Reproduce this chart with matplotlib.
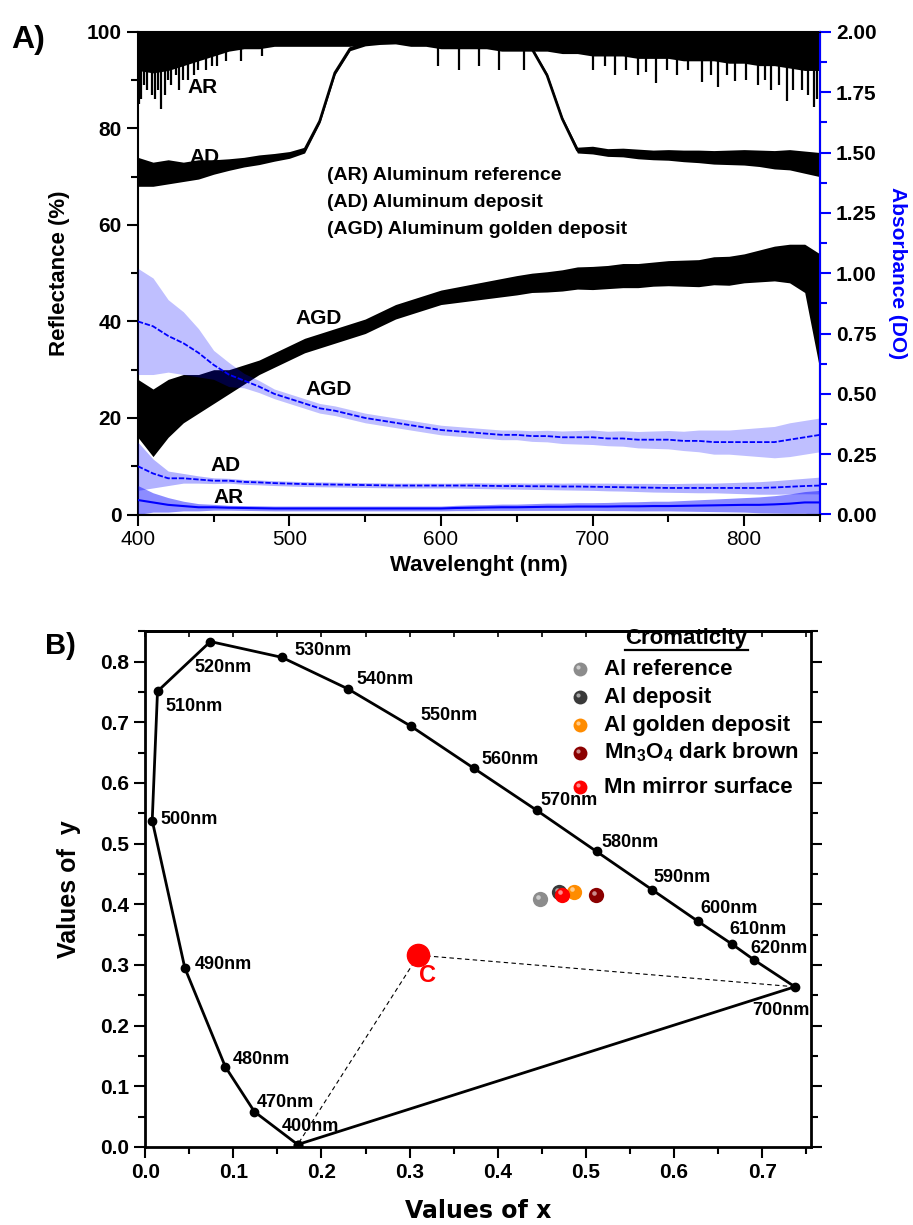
import numpy as np
import matplotlib
matplotlib.use("Agg")
import matplotlib.pyplot as plt
from matplotlib.ticker import MultipleLocator, NullFormatter
from matplotlib.lines import Line2D
from matplotlib.transforms import ScaledTranslation

plt.rcParams['font.family'] = ['Liberation Sans', 'DejaVu Sans']
plt.rcParams['mathtext.fontset'] = 'custom'
plt.rcParams['mathtext.rm'] = 'Liberation Sans:bold'
plt.rcParams['mathtext.bf'] = 'Liberation Sans:bold'

# ====== spectra (10 nm steps, 400-850 nm) ======
wl = np.arange(400, 851, 10)

# reflectance (%): lower edge of the dense AR trace, plus its deepest spikes
ar_low = [92, 91.5, 92, 93, 94, 95, 96, 96.5, 96.5, 97, 97, 97, 97, 97, 97, 97.5,
          97.5, 97.5, 97, 97, 96.5, 96.5, 96.5, 96.5, 96, 96, 96, 96, 95.5, 95.5,
          95, 95, 95, 94.5, 94.5, 94.5, 94, 94, 94, 93.5, 93.5, 93, 93, 92.5, 92, 92]
ar_dip_wl = [401, 402, 404, 406, 409, 411, 413, 415, 418, 420, 422, 425, 427, 430,
             433, 437, 440, 445, 449, 452, 458, 468, 482, 598, 612, 625, 638, 655,
             700, 708, 715, 722, 730, 735, 742, 749, 756, 763, 772, 778, 783, 789,
             794, 801, 809, 814, 818, 823, 828, 832, 838, 842, 846, 848]
ar_dip_val = [85, 86, 89, 88, 87, 86, 88, 84, 87, 90, 89, 91, 88, 90,
              90, 91, 92, 92, 93, 93, 94, 94, 95, 93, 92, 93, 92, 92,
              92, 93, 91, 92, 91, 91.7, 89.5, 92, 91, 92, 89.6, 91, 88.5, 91,
              89.8, 90, 88.9, 90, 88, 89, 85.7, 88, 88, 87, 84.4, 86]

ad_refl = [71, 70.5, 71, 71, 71.5, 72, 72.5, 73, 73.5, 74, 74.5, 75.5, 81.5, 91.5,
           96.5, 97.5, 97.8, 98, 98, 98, 98, 98, 98, 97.8, 97.8, 97.5, 96.5, 91, 82,
           75.5, 75.5, 75, 75, 74.7, 74.5, 74.5, 74.3, 74.2, 74, 74, 74, 73.8, 73.5,
           73.5, 73, 72.5]
ad_refl_sd = [3, 2.5, 2.5, 2, 2, 1.5, 1.2, 1, 1, 0.8, 0.7, 0.6, 0.4, 0.4, 0.4, 0.4,
              0.4, 0.4, 0.4, 0.4, 0.4, 0.4, 0.4, 0.4, 0.4, 0.4, 0.4, 0.4, 0.4, 0.6,
              0.8, 0.8, 0.9, 1, 1, 1.1, 1.2, 1.3, 1.4, 1.5, 1.6, 1.7, 1.9, 2.1, 2.3, 2.5]

agd_refl = [22, 19, 22, 24, 25, 26.5, 27.5, 29, 30.5, 32, 33.5, 35, 36, 37, 38, 39,
            40.5, 42, 43, 44, 45, 45.5, 46, 46.5, 47, 47.5, 48, 48.2, 48.5, 49, 49,
            49.2, 49.5, 49.5, 49.8, 50, 50, 50, 50.5, 50.5, 51, 51.5, 52, 52, 51, 42]
agd_refl_sd = [6, 7, 6, 5, 4, 3.5, 2.5, 2, 1.5, 1.5, 1.5, 1.5, 1.5, 1.5, 1.5, 1.5,
               1.5, 1.5, 1.5, 1.5, 1.5, 1.6, 1.7, 1.8, 1.9, 2, 2, 2.1, 2.2, 2.3, 2.4,
               2.4, 2.5, 2.5, 2.5, 2.6, 2.7, 2.8, 2.9, 3, 3, 3.3, 3.6, 4, 5, 12]

# absorbance (DO)
agd_abs = [0.8, 0.78, 0.74, 0.71, 0.67, 0.62, 0.58, 0.555, 0.53, 0.5, 0.48, 0.46,
           0.44, 0.43, 0.415, 0.4, 0.39, 0.38, 0.37, 0.36, 0.35, 0.345, 0.34, 0.335,
           0.33, 0.33, 0.325, 0.325, 0.32, 0.32, 0.32, 0.315, 0.315, 0.31, 0.31, 0.31,
           0.305, 0.305, 0.3, 0.3, 0.3, 0.3, 0.3, 0.31, 0.32, 0.33]
agd_abs_sd = [0.22, 0.2, 0.15, 0.13, 0.1, 0.06, 0.05, 0.03, 0.025, 0.02, 0.02, 0.02,
              0.02, 0.02, 0.02, 0.02, 0.02, 0.02, 0.02, 0.02, 0.02, 0.02, 0.02, 0.02,
              0.02, 0.02, 0.022, 0.024, 0.026, 0.028, 0.03, 0.03, 0.032, 0.034, 0.036,
              0.038, 0.04, 0.045, 0.05, 0.05, 0.055, 0.06, 0.065, 0.07, 0.07, 0.07]

ad_abs = [0.2, 0.17, 0.15, 0.15, 0.145, 0.14, 0.14, 0.135, 0.133, 0.13, 0.128, 0.126,
          0.125, 0.124, 0.123, 0.122, 0.121, 0.12, 0.12, 0.12, 0.12, 0.12, 0.12, 0.119,
          0.118, 0.118, 0.117, 0.117, 0.116, 0.116, 0.115, 0.114, 0.113, 0.112, 0.111,
          0.11, 0.11, 0.11, 0.11, 0.11, 0.11, 0.11, 0.112, 0.115, 0.118, 0.12]
ad_abs_sd = [0.1, 0.06, 0.03, 0.02, 0.015, 0.012, 0.01, 0.01, 0.01, 0.01, 0.01, 0.01,
             0.01, 0.01, 0.01, 0.01, 0.01, 0.01, 0.01, 0.01, 0.01, 0.01, 0.012, 0.012,
             0.012, 0.013, 0.013, 0.014, 0.014, 0.015, 0.015, 0.016, 0.016, 0.017,
             0.018, 0.018, 0.019, 0.02, 0.02, 0.022, 0.024, 0.026, 0.028, 0.03, 0.032, 0.035]

ar_abs = [0.06, 0.05, 0.04, 0.035, 0.03, 0.03, 0.028, 0.027, 0.026, 0.025, 0.025,
          0.025, 0.025, 0.025, 0.025, 0.025, 0.025, 0.025, 0.025, 0.025, 0.025, 0.027,
          0.028, 0.029, 0.03, 0.03, 0.031, 0.032, 0.032, 0.033, 0.033, 0.033, 0.034,
          0.034, 0.035, 0.035, 0.036, 0.037, 0.038, 0.039, 0.04, 0.04, 0.042, 0.045,
          0.05, 0.05]
ar_abs_sd = [0.06, 0.04, 0.03, 0.02, 0.015, 0.012, 0.01, 0.01, 0.01, 0.01, 0.01, 0.01,
             0.01, 0.01, 0.01, 0.01, 0.01, 0.01, 0.01, 0.01, 0.01, 0.011, 0.012, 0.012,
             0.013, 0.013, 0.014, 0.015, 0.015, 0.016, 0.016, 0.017, 0.018, 0.019, 0.02,
             0.02, 0.022, 0.024, 0.026, 0.028, 0.03, 0.033, 0.036, 0.04, 0.045, 0.05]

# ====== chromaticity diagram ======
locus_nm = [400, 470, 480, 490, 500, 510, 520, 530, 540, 550, 560, 570, 580, 590,
            600, 610, 620, 700]
locus_x = [0.173, 0.124, 0.091, 0.045, 0.008, 0.014, 0.074, 0.155, 0.230, 0.302,
           0.373, 0.444, 0.512, 0.575, 0.627, 0.666, 0.691, 0.737]
locus_y = [0.004, 0.058, 0.132, 0.295, 0.538, 0.751, 0.833, 0.807, 0.755, 0.693,
           0.624, 0.555, 0.487, 0.424, 0.372, 0.334, 0.308, 0.264]
illum_c = (0.310, 0.316)

sample_names = ['Al reference', 'Al deposit', 'Al golden deposit',
                r'Mn$_{3}$O$_{4}$ dark brown', 'Mn mirror surface']
sample_x = [0.448, 0.470, 0.486, 0.511, 0.473]
sample_y = [0.408, 0.420, 0.421, 0.415, 0.416]
sample_colors = ['#8c8c8c', '#3a3a3a', '#ff8c00', '#8b0000', '#ff0000']


def noisy_band(ax, x, mid, sd, color, lw, alpha=1.0, ls='-'):
    mid = np.asarray(mid, dtype=float)
    sd = np.asarray(sd, dtype=float)
    ax.fill_between(x, mid - sd, mid + sd, color=color, lw=0, alpha=alpha)
    ax.plot(x, mid, color=color, lw=lw, ls=ls)


fig = plt.figure(figsize=(9.13, 12.25), dpi=100)

# ---------------- A) ----------------
axA = fig.add_axes([0.151, 0.580, 0.747, 0.394])
axA2 = axA.twinx()

axA.fill_between(wl, np.asarray(ar_low, dtype=float), 101, color='k', lw=0)
axA.vlines(ar_dip_wl, ar_dip_val, 100, color='k', lw=1.6)
noisy_band(axA, wl, ad_refl, ad_refl_sd, 'k', 2)
noisy_band(axA, wl, agd_refl, agd_refl_sd, 'k', 2.5)

blue = '#0000ff'
noisy_band(axA2, wl, agd_abs, agd_abs_sd, blue, 1.3, alpha=0.25, ls=(0, (3, 1)))
noisy_band(axA2, wl, ad_abs, ad_abs_sd, blue, 1.3, alpha=0.3, ls=(0, (3, 1)))
noisy_band(axA2, wl, ar_abs, ar_abs_sd, blue, 1.5, alpha=0.45)

axA.set_xlim(400, 850)
axA.set_ylim(0, 100)
axA2.set_ylim(0, 2.0)
axA.xaxis.set_major_locator(MultipleLocator(100))
axA.xaxis.set_minor_locator(MultipleLocator(50))
axA.yaxis.set_major_locator(MultipleLocator(20))
axA.yaxis.set_minor_locator(MultipleLocator(10))
axA2.yaxis.set_major_locator(MultipleLocator(0.25))
axA2.yaxis.set_minor_locator(MultipleLocator(0.125))
axA2.yaxis.set_major_formatter(plt.FormatStrFormatter('%.2f'))

axA.tick_params(axis='both', which='major', direction='out', length=8, width=1.5,
                labelsize=15)
axA.tick_params(axis='both', which='minor', direction='out', length=5, width=1.5)
for lab in axA.get_yticklabels():
    lab.set_fontweight('bold')
axA2.tick_params(axis='y', which='major', direction='out', length=8, width=1.5,
                 colors=blue, labelcolor='k', labelsize=15)
axA2.tick_params(axis='y', which='minor', direction='out', length=5, width=1.5,
                 colors=blue)
for lab in axA2.get_yticklabels():
    lab.set_fontweight('bold')
for sp in axA.spines.values():
    sp.set_linewidth(1.5)
axA2.spines['right'].set_color(blue)
axA2.spines['right'].set_linewidth(1.5)
axA2.spines['left'].set_visible(False)

axA.set_xlabel('Wavelenght (nm)', fontsize=16, fontweight='bold', labelpad=4)
axA.set_ylabel('Reflectance (%)', fontsize=16, fontweight='bold', labelpad=12)
axA2.set_ylabel('Absorbance (DO)', fontsize=15, fontweight='bold', color=blue,
                rotation=270, labelpad=22)

lab_kw = dict(fontsize=15, fontweight='bold', ha='center', va='center')
axA.text(443, 88.4, 'AR', **lab_kw)
axA.text(444, 74.0, 'AD', **lab_kw)
axA.text(519, 40.7, 'AGD', **lab_kw)
axA.text(526, 26.0, 'AGD', **lab_kw)
axA.text(458, 10.2, 'AD', **lab_kw)
axA.text(460, 3.6, 'AR', **lab_kw)
for yy, s in zip([70.3, 64.7, 59.1], ['(AR) Aluminum reference', '(AD) Aluminum deposit',
                                      '(AGD) Aluminum golden deposit']):
    axA.text(525, yy, s, fontsize=14, fontweight='bold', ha='left', va='center')

fig.text(0.012, 0.967, 'A)', fontsize=23, fontweight='bold', va='center')

# ---------------- B) ----------------
axB = fig.add_axes([0.159, 0.0637, 0.729, 0.421])

cx, cy = illum_c
axB.plot([cx, locus_x[0]], [cy, locus_y[0]], color='k', lw=0.8, ls=(0, (4, 3)))
axB.plot([cx, locus_x[-1]], [cy, locus_y[-1]], color='k', lw=0.8, ls=(0, (4, 3)))
axB.plot(locus_x + locus_x[:1], locus_y + locus_y[:1], color='k', lw=2,
         marker='o', markersize=6)

label_offsets = [(-16, 18), (2, 9), (7, 7), (10, 3), (8, 1), (8, -15), (-16, -26),
                 (13, 7), (9, 9), (9, 11), (7, 9), (4, 10), (5, 9), (1, 12), (2, 13),
                 (-3, 15), (-4, 12), (-43, -24)]
for nm, x, y, off in zip(locus_nm, locus_x, locus_y, label_offsets):
    axB.annotate(f'{nm}nm', (x, y), xytext=off, textcoords='offset pixels',
                 fontsize=13, fontweight='bold', ha='left', va='center')

axB.plot([cx], [cy], 'o', color='#ff0000', markersize=16)
axB.text(0.320, 0.283, 'C', color='#ff0000', fontsize=17, fontweight='bold',
         ha='center', va='center')

shine = ScaledTranslation(-1.5 / 72, 1.5 / 72, fig.dpi_scale_trans)


def sphere(ax, x, y, color, size=11):
    ax.plot([x], [y], 'o', color=color, markersize=size, markeredgewidth=0)
    ax.plot([x], [y], 'o', color='white', alpha=0.55, markersize=size * 0.3,
            markeredgewidth=0, transform=ax.transData + shine)


for x, y, c in zip(sample_x, sample_y, sample_colors):
    sphere(axB, x, y, c)

# legend drawn by hand
leg_y = [0.787, 0.741, 0.695, 0.650, 0.593]
for name, c, yy in zip(sample_names, sample_colors, leg_y):
    sphere(axB, 0.493, yy, c, size=10)
    axB.text(0.521, yy, name, fontsize=16, fontweight='bold', ha='left', va='center')
title = axB.text(0.614, 0.838, 'Cromaticity', fontsize=16, fontweight='bold',
                 ha='center', va='center')

axB.set_xlim(0, 0.755)
axB.set_ylim(0, 0.85)
axB.xaxis.set_major_locator(MultipleLocator(0.1))
axB.xaxis.set_minor_locator(MultipleLocator(0.05))
axB.yaxis.set_major_locator(MultipleLocator(0.1))
axB.yaxis.set_minor_locator(MultipleLocator(0.05))
axB.tick_params(axis='both', which='major', direction='out', length=8, width=1.5,
                labelsize=15)
axB.tick_params(axis='both', which='minor', direction='out', length=5, width=1.5)
axB.tick_params(axis='y', which='both', right=True)
for lab in axB.get_xticklabels() + axB.get_yticklabels():
    lab.set_fontweight('bold')
for sp in axB.spines.values():
    sp.set_linewidth(2)

# small inward ticks along the top edge
topB = axB.secondary_xaxis('top')
topB.xaxis.set_major_locator(MultipleLocator(0.05))
topB.xaxis.set_major_formatter(NullFormatter())
topB.tick_params(direction='in', length=4, width=1.2)
topB.spines['top'].set_linewidth(2)

axB.set_xlabel('Values of x', fontsize=17, fontweight='bold',
               family='DejaVu Sans', labelpad=12)
axB.set_ylabel('Values of  y', fontsize=18, fontweight='bold', labelpad=14)

fig.text(0.049, 0.473, 'B)', fontsize=21, fontweight='bold', va='center')

# underline the legend title
fig.canvas.draw()
bb = title.get_window_extent()
fig.add_artist(Line2D([bb.x0, bb.x1], [bb.y0 - 1, bb.y0 - 1], color='k', lw=1.6,
                      transform=None))

fig.savefig('out.png', dpi=100)
